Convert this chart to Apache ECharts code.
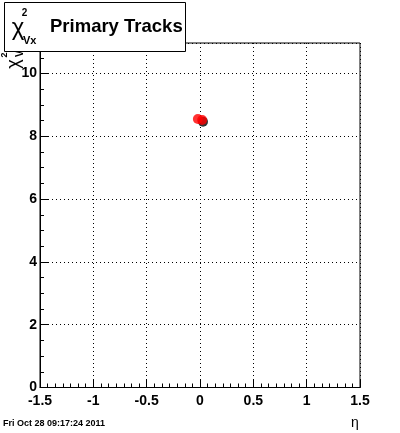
<!DOCTYPE html>
<html>
<head>
<meta charset="utf-8">
<script src="https://cdn.jsdelivr.net/npm/echarts@6/dist/echarts.min.js"></script>
<style>html,body{margin:0;padding:0;background:#fff;}#c{width:400px;height:433px;}</style>
</head>
<body>
<div id="c"></div>
<script>
// Data
const redEta = [-0.02, 0.02];
const redChi2 = [8.55, 8.52];
const blackEta = [0.028];
const blackChi2 = [8.46];
const xTicks = [-1.5, -1, -0.5, 0, 0.5, 1, 1.5];
const yTicks = [0, 2, 4, 6, 8, 10];
const xMin = -1.5, xMax = 1.5, yMin = 0, yMax = 10.97;
const titleMain = 'Primary Tracks';
const footerText = 'Fri Oct 28 09:17:24 2011';
const xTitle = 'η';

const FONT = 'Liberation Sans, Arial, Helvetica, sans-serif';
const chart = echarts.init(document.getElementById('c'), null, {renderer: 'canvas'});

const fmt = v => (xTicks.indexOf(v) >= 0 ? String(v) : '');

const option = {
  animation: false,
  backgroundColor: '#fff',
  grid: {left: 40, right: 40, top: 43, bottom: 45.5, show: true, borderColor: '#000', borderWidth: 1, backgroundColor: 'transparent'},
  xAxis: [{
    type: 'value', min: xMin, max: xMax, interval: 0.5,
    axisLine: {show: true, onZero: false, lineStyle: {color: '#000', width: 1}},
    axisTick: {show: true, inside: true, length: 8, lineStyle: {color: '#000'}},
    minorTick: {show: true, splitNumber: 7, length: 4, lineStyle: {color: '#000'}},
    splitLine: {show: true, lineStyle: {color: '#000', type: [1, 3], width: 1}},
    axisLabel: {color: '#000', fontFamily: FONT, fontWeight: 'bold', fontSize: 14, margin: 7, formatter: v => fmt(v)}
  }],
  yAxis: [{
    type: 'value', min: yMin, max: yMax, interval: 2,
    axisLine: {show: true, onZero: false, lineStyle: {color: '#000', width: 1}},
    axisTick: {show: true, inside: true, length: 8, lineStyle: {color: '#000'}},
    splitLine: {show: true, lineStyle: {color: '#000', type: [1, 3], width: 1}},
    axisLabel: {color: '#000', fontFamily: FONT, fontWeight: 'bold', fontSize: 14, margin: 3, showMaxLabel: false,
      formatter: v => (yTicks.indexOf(v) >= 0 ? String(v) : '')}
  }, {
    type: 'value', min: yMin, max: yMax, interval: 0.5, position: 'left', offset: 0,
    axisLine: {show: false, onZero: false},
    axisTick: {show: true, inside: true, length: 4, lineStyle: {color: '#000'}},
    splitLine: {show: false},
    axisLabel: {show: false}
  }],
  series: [{
    type: 'scatter', xAxisIndex: 0, yAxisIndex: 0, symbol: 'circle', symbolSize: 10,
    itemStyle: {color: '#000'},
    data: blackEta.map((x, i) => [x, blackChi2[i]]), z: 3
  }, {
    type: 'scatter', xAxisIndex: 0, yAxisIndex: 0, symbol: 'circle', symbolSize: 10,
    itemStyle: {color: '#ff0000'},
    data: redEta.map((x, i) => [x, redChi2[i]]), z: 4
  }],
  graphic: [
    // rotated y-axis title
    {type: 'group', x: 14, y: 64, rotation: Math.PI / 2, z: 50, children: [
      {type: 'text', x: 0, y: 0, style: {text: 'χ', font: 'normal 18px ' + FONT, fill: '#000', align: 'center', verticalAlign: 'middle'}},
      {type: 'text', x: 9, y: -9, style: {text: '2', font: 'bold 9px ' + FONT, fill: '#000', align: 'center', verticalAlign: 'middle'}},
      {type: 'text', x: 7, y: 6, style: {text: 'Vx', font: 'bold 10px ' + FONT, fill: '#000', align: 'left', verticalAlign: 'middle'}}
    ]},
    // title box
    {type: 'rect', z: 100, shape: {x: 4.5, y: 2.5, width: 181, height: 49}, style: {fill: '#fff', stroke: '#000', lineWidth: 1}},
    {type: 'text', z: 101, x: 18, y: 28, style: {text: 'χ', font: 'normal 24px ' + FONT, fill: '#000', align: 'center', verticalAlign: 'middle'}},
    {type: 'text', z: 101, x: 24.5, y: 13.5, style: {text: '2', font: 'bold 10px ' + FONT, fill: '#000', align: 'center', verticalAlign: 'middle'}},
    {type: 'text', z: 101, x: 23, y: 40.5, style: {text: 'Vx', font: 'bold 11px ' + FONT, fill: '#000', align: 'left', verticalAlign: 'middle'}},
    {type: 'text', z: 101, x: 50, y: 26.5, style: {text: titleMain, font: 'bold 18.5px ' + FONT, fill: '#000', align: 'left', verticalAlign: 'middle'}},
    // footer
    {type: 'text', x: 3, y: 424, style: {text: footerText, font: 'bold 9px ' + FONT, fill: '#000', align: 'left', verticalAlign: 'middle'}},
    // x title
    {type: 'text', x: 355, y: 423, style: {text: xTitle, font: 'normal 14px ' + FONT, fill: '#000', align: 'center', verticalAlign: 'middle'}}
  ]
};
chart.setOption(option);
</script>
</body>
</html>
